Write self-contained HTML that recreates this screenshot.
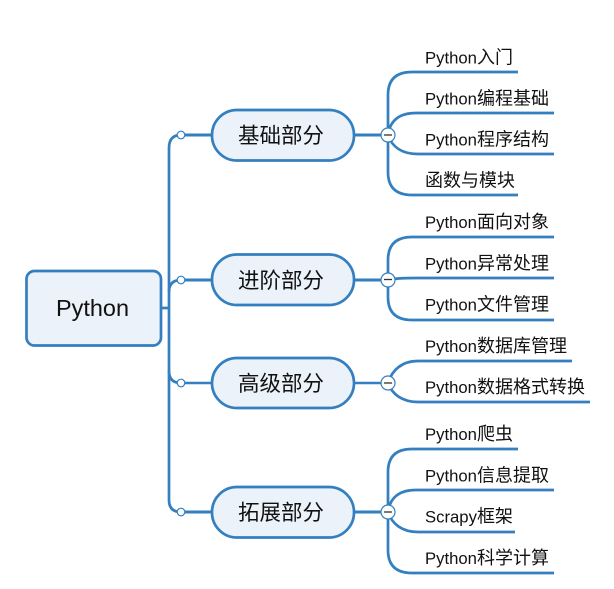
<!DOCTYPE html>
<html>
<head>
<meta charset="utf-8">
<style>
html,body{margin:0;padding:0;background:#fff;width:614px;height:589px;overflow:hidden}
svg{display:block}
text{font-family:"Liberation Sans","Noto Sans CJK SC",sans-serif;fill:#111}
.leaf{font-size:16.7px}
.leaf tspan{font-size:18px}
.br{font-size:21.5px;text-anchor:middle}
path,line{fill:none;stroke:#337fbf;stroke-width:2.7}
.box{fill:#ebf2f9;stroke:#337fbf;stroke-width:2.7}
.dot{fill:#fff;stroke:#337fbf;stroke-width:1.2}
.minus{stroke:#333;stroke-width:1.3}
</style>
</head>
<body>
<svg width="614" height="589" viewBox="0 0 614 589" xmlns="http://www.w3.org/2000/svg">
<!-- root trunk -->
<path d="M161 308H169"/>
<path d="M181 135Q169 135 169 148V500Q169 512 181 512"/>
<path d="M181 280Q169 280 169 292"/>
<path d="M181 383Q169 383 169 371"/>
<line x1="181" y1="135" x2="212" y2="135" style="stroke-width:3"/>
<line x1="181" y1="280" x2="212" y2="280" style="stroke-width:3"/>
<line x1="181" y1="383" x2="212" y2="383" style="stroke-width:2.4"/>
<line x1="181" y1="512" x2="212" y2="512" style="stroke-width:3"/>

<!-- leaf group 1 -->
<line x1="354" y1="135" x2="388" y2="135" style="stroke-width:3"/>
<path d="M388 135V95Q388 72 412 72H518"/>
<path d="M388 135C390 120 400 113 416 113H554"/>
<path d="M388 135C392 147 402 154 418 154H554"/>
<path d="M388 135V172Q388 195 412 195H518"/>
<!-- leaf group 2 -->
<line x1="354" y1="280" x2="388" y2="280" style="stroke-width:3"/>
<path d="M388 280V260Q388 237 412 237H554"/>
<path d="M388 280Q394 278 418 278H554"/>
<path d="M388 280V297Q388 320 412 320H554"/>
<!-- leaf group 3 -->
<line x1="354" y1="383" x2="388" y2="383" style="stroke-width:2.4"/>
<path d="M388 383C392 370 402 361 418 361H572"/>
<path d="M388 383C392 394 402 402 418 402H590"/>
<!-- leaf group 4 -->
<line x1="354" y1="512" x2="388" y2="512" style="stroke-width:3"/>
<path d="M388 512V472Q388 449 412 449H518"/>
<path d="M388 512C390 497 400 490 416 490H554"/>
<path d="M388 512C392 524 402 532 418 532H515"/>
<path d="M388 512V550Q388 573 412 573H554"/>

<!-- boxes -->
<rect class="box" x="26.500" y="271" width="134.500" height="74.500" rx="8"/>
<rect class="box" x="212" y="110" width="142" height="50.500" rx="25"/>
<rect class="box" x="212" y="254.500" width="142" height="50.500" rx="25"/>
<rect class="box" x="212" y="358" width="142" height="50" rx="25"/>
<rect class="box" x="212" y="487" width="142" height="50.500" rx="25"/>

<!-- small dots -->
<circle class="dot" cx="181" cy="135" r="3.800"/>
<circle class="dot" cx="181" cy="280" r="3.800"/>
<circle class="dot" cx="181" cy="383" r="3.800"/>
<circle class="dot" cx="181" cy="512" r="3.800"/>

<!-- collapse -->
<circle class="dot" cx="388" cy="135" r="7"/><line class="minus" x1="384" y1="135" x2="392" y2="135"/>
<circle class="dot" cx="388" cy="280" r="7"/><line class="minus" x1="384" y1="279.500" x2="392" y2="279.500"/>
<circle class="dot" cx="388" cy="383" r="7"/><line class="minus" x1="384" y1="383" x2="392" y2="383"/>
<circle class="dot" cx="388" cy="512" r="7"/><line class="minus" x1="384" y1="512" x2="392" y2="512"/>

<!-- labels -->
<text x="56" y="316" textLength="73" lengthAdjust="spacingAndGlyphs" style="font-size:23px">Python</text>
<text class="br" x="281" y="143">基础部分</text>
<text class="br" x="281" y="288">进阶部分</text>
<text class="br" x="281" y="391">高级部分</text>
<text class="br" x="281" y="520">拓展部分</text>

<text class="leaf" x="425" y="63.500">Python<tspan>入门</tspan></text>
<text class="leaf" x="425" y="104.500">Python<tspan>编程基础</tspan></text>
<text class="leaf" x="425" y="145.500">Python<tspan>程序结构</tspan></text>
<text class="leaf" x="425" y="186.500"><tspan>函数与模块</tspan></text>
<text class="leaf" x="425" y="228">Python<tspan>面向对象</tspan></text>
<text class="leaf" x="425" y="269.500">Python<tspan>异常处理</tspan></text>
<text class="leaf" x="425" y="310.500">Python<tspan>文件管理</tspan></text>
<text class="leaf" x="425" y="352">Python<tspan>数据库管理</tspan></text>
<text class="leaf" x="425" y="393">Python<tspan>数据格式转换</tspan></text>
<text class="leaf" x="425" y="440">Python<tspan>爬虫</tspan></text>
<text class="leaf" x="425" y="481.500">Python<tspan>信息提取</tspan></text>
<text class="leaf" x="425" y="522.500">Scrapy<tspan>框架</tspan></text>
<text class="leaf" x="425" y="564">Python<tspan>科学计算</tspan></text>
</svg>
</body>
</html>
